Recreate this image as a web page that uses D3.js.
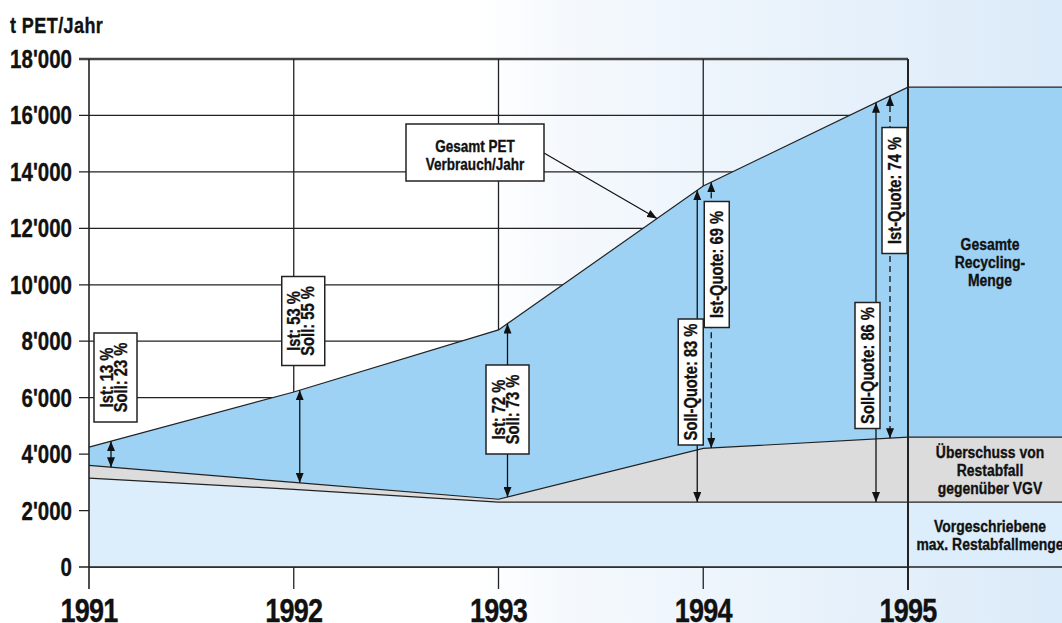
<!DOCTYPE html>
<html>
<head>
<meta charset="utf-8">
<script src="https://cdn.jsdelivr.net/npm/d3@7"></script>
<style>
  body { margin: 0; }
  svg text {
    font-family: 'Liberation Sans', Arial, sans-serif;
    font-weight: bold;
    fill: #111;
    stroke: #111;
    stroke-width: 0.35px;
  }
</style>
</head>
<body>
<svg id="chart" width="1062" height="623"></svg>
<script>
"use strict";

// t PET per year
var years          = [1991, 1992, 1993, 1994, 1995];
var gesamtPET      = [4250, 6200, 8400, 13500, 17000];
var restabfall     = [3600, 3000, 2400, 4200, 4600];
var vorgeschrieben = [3150, 2750, 2300, 2300, 2300];

var yTicks      = [0, 2000, 4000, 6000, 8000, 10000, 12000, 14000, 16000, 18000];
var yTickLabels = ["0", "2'000", "4'000", "6'000", "8'000", "10'000", "12'000", "14'000", "16'000", "18'000"];
var yTitle      = "t PET/Jahr";

var quoteTexts = [["Ist: 13 %", "Soll: 23 %"], ["Ist: 53 %", "Soll: 55 %"], ["Ist: 72 %", "Soll: 73 %"]];
var sollQuotes = ["Soll-Quote: 83 %", "Soll-Quote: 86 %"];
var istQuotes  = ["Ist-Quote: 69 %", "Ist-Quote: 74 %"];
var gesamtNote = ["Gesamt PET", "Verbrauch/Jahr"];
var legendTexts = [["Gesamte", "Recycling-", "Menge"],
                   ["Überschuss von", "Restabfall", "gegenüber VGV"],
                   ["Vorgeschriebene", "max. Restabfallmenge"]];

var W = 1062, H = 623;
var NARROW = 0.82; // squeeze the font to a condensed face
var svg = d3.select("#chart");

var x = d3.scaleLinear().domain([1991, 1995]).range([89, 908]);
var y = d3.scaleLinear().domain([0, 18000]).range([567, 59]);

// piecewise linear value of a series at any year
function valueAt(series, yr) {
  if (yr >= years[years.length - 1]) return series[series.length - 1];
  var i = Math.max(0, Math.min(years.length - 2, Math.floor(yr - years[0])));
  var t = (yr - years[i]) / (years[i + 1] - years[i]);
  return series[i] + (series[i + 1] - series[i]) * t;
}

// condensed text block; lines stacked with spacing ls, first baseline at base
function label(parent, xp, yp, lines, size, o) {
  o = o || {};
  var g = parent.append("g").attr("transform",
    "translate(" + xp + "," + yp + ")" + (o.rot ? " rotate(" + o.rot + ")" : "") +
    " scale(" + (o.sx || NARROW) + ",1)");
  var t = g.append("text")
    .attr("text-anchor", o.anchor || "middle")
    .style("font-size", size + "px");
  if (o.ls0) t.style("letter-spacing", o.ls0 + "px");
  lines.forEach(function(s, i) {
    t.append("tspan").attr("x", 0).attr("y", (o.base || 0) + i * (o.ls || 0)).text(s);
  });
  return g;
}

/*
 * background + markers
 */
var defs = svg.append("defs");
var grad = defs.append("linearGradient").attr("id", "bg")
  .attr("x1", 0).attr("x2", 1).attr("y1", 0).attr("y2", 0);
grad.append("stop").attr("offset", 0).attr("stop-color", "#ffffff");
grad.append("stop").attr("offset", 0.45).attr("stop-color", "#ffffff");
grad.append("stop").attr("offset", 0.53).attr("stop-color", "#f5f9fd");
grad.append("stop").attr("offset", 0.95).attr("stop-color", "#deecf9");
grad.append("stop").attr("offset", 1).attr("stop-color", "#dcebf9");

defs.append("marker")
  .attr("id", "head")
  .attr("viewBox", "0 0 10 8")
  .attr("refX", 10).attr("refY", 4)
  .attr("markerWidth", 10).attr("markerHeight", 8)
  .attr("markerUnits", "userSpaceOnUse")
  .attr("orient", "auto-start-reverse")
  .append("path").attr("d", "M0,0 L10,4 L0,8 Z").attr("fill", "#111");

svg.append("rect").attr("width", W).attr("height", H).attr("fill", "url(#bg)");

/*
 * grid
 */
var grid = svg.append("g");
grid.selectAll("line.h").data(yTicks).enter().append("line")
  .attr("x1", x(1991) - 10).attr("x2", x(1995))
  .attr("y1", function(d) { return y(d); })
  .attr("y2", function(d) { return y(d); })
  .attr("stroke", function(d) { return d === 18000 ? "#444" : "#222"; })
  .attr("stroke-width", function(d) { return d === 18000 ? 2.5 : 1.3; });
grid.selectAll("line.v").data(years.slice(1, 4)).enter().append("line")
  .attr("x1", function(d) { return x(d); })
  .attr("x2", function(d) { return x(d); })
  .attr("y1", y(18000)).attr("y2", y(0) + 22)
  .attr("stroke", "#222").attr("stroke-width", 1.3);

/*
 * stacked areas, running flat to the right edge after 1995
 */
var xEdge = x.invert(W + 2);
function pts(series) {
  var p = years.map(function(yr, i) { return [yr, series[i]]; });
  p.push([xEdge, series[series.length - 1]]);
  return p;
}
var area = d3.area()
  .x(function(d) { return x(d[0]); })
  .y0(y(0))
  .y1(function(d) { return y(d[1]); });
var line = d3.line()
  .x(function(d) { return x(d[0]); })
  .y(function(d) { return y(d[1]); });

var layers = [
  { s: gesamtPET,      fill: "#9dd2f4" },
  { s: restabfall,     fill: "#dcdcdc" },
  { s: vorgeschrieben, fill: "#dcedfb" }
];
layers.forEach(function(l) {
  svg.append("path").attr("d", area(pts(l.s))).attr("fill", l.fill);
});
layers.forEach(function(l) {
  svg.append("path").attr("d", line(pts(l.s)))
    .attr("fill", "none").attr("stroke", "#222").attr("stroke-width", 1.2);
});
svg.append("line")
  .attr("x1", x(1991)).attr("x2", W).attr("y1", y(0)).attr("y2", y(0))
  .attr("stroke", "#222").attr("stroke-width", 1.6);

// axis line 1991 and end line 1995 lie over the areas
svg.append("line")
  .attr("x1", x(1991)).attr("x2", x(1991)).attr("y1", y(18000)).attr("y2", y(0) + 22)
  .attr("stroke", "#222").attr("stroke-width", 1.6);
svg.append("line")
  .attr("x1", x(1995)).attr("x2", x(1995)).attr("y1", y(18000)).attr("y2", y(0) + 23)
  .attr("stroke", "#222").attr("stroke-width", 2);

/*
 * axis labels
 */
yTicks.forEach(function(d, i) {
  label(svg, 72, y(d) + 9, [yTickLabels[i]], 25, { anchor: "end" });
});
years.forEach(function(d) {
  label(svg, x(d), 622, [String(d)], 33, { ls0: -1 });
});
label(svg, 10, 33, [yTitle], 22, { anchor: "start", ls0: 0.5 });

/*
 * quote arrows and boxes
 */
function arrow(xp, v0, v1, dashed) {
  svg.append("line")
    .attr("x1", xp).attr("x2", xp)
    .attr("y1", y(v0)).attr("y2", y(v1))
    .attr("stroke", "#111").attr("stroke-width", 1.3)
    .attr("stroke-dasharray", dashed ? "6,4" : null)
    .attr("marker-start", "url(#head)")
    .attr("marker-end", "url(#head)");
}

// box standing upright with text reading bottom to top
function vbox(cx, cy, w, h, lines, base) {
  svg.append("rect")
    .attr("x", cx - w / 2).attr("y", cy - h / 2).attr("width", w).attr("height", h)
    .attr("fill", "#fff").attr("stroke", "#222").attr("stroke-width", 1.5);
  label(svg, cx, cy, lines, 17.5, { rot: -90, base: base, ls: 14, sx: 0.84 });
}

// 1991-1993: Ist/Soll from total down to the residual waste line
var twoLayout = [
  { dx: 22, bx: 4.5, by: 377.5 },
  { dx: 6,  bx: 3.5, by: 321 },
  { dx: 9,  bx: 0,   by: 409.5 }
];
twoLayout.forEach(function(l, i) {
  var xp = x(years[i]) + l.dx, yr = x.invert(xp);
  arrow(xp, valueAt(gesamtPET, yr), valueAt(restabfall, yr), false);
  vbox(xp + l.bx, l.by, 43, 89, quoteTexts[i], -3);
});

// 1994-1995: Soll-Quote (solid) and Ist-Quote (dashed)
var quoteLayout = [
  { yi: 3, sdx: -6,  sbx: -6.5, sby: 382,   idx: 8,   ibx: 5.5, iby: 264.5 },
  { yi: 4, sdx: -32, sbx: -8.5, sby: 365.5, idx: -18, ibx: 4.5, iby: 190.5 }
];
quoteLayout.forEach(function(l, i) {
  var xs = x(years[l.yi]) + l.sdx, xi = x(years[l.yi]) + l.idx;
  arrow(xs, valueAt(gesamtPET, x.invert(xs)), valueAt(vorgeschrieben, x.invert(xs)), false);
  arrow(xi, valueAt(gesamtPET, x.invert(xi)), valueAt(restabfall, x.invert(xi)), true);
  vbox(xs + l.sbx, l.sby, 25, 126, [sollQuotes[i]], 6.5);
  vbox(xi + l.ibx, l.iby, 25, 126, [istQuotes[i]], 6.5);
});

// "Gesamt PET" callout
var tipX = 657, tipYr = x.invert(tipX);
svg.append("line")
  .attr("x1", 544).attr("y1", 153)
  .attr("x2", tipX).attr("y2", y(valueAt(gesamtPET, tipYr)))
  .attr("stroke", "#111").attr("stroke-width", 1.2)
  .attr("marker-end", "url(#head)");
svg.append("rect").attr("x", 406).attr("y", 124).attr("width", 138).attr("height", 57)
  .attr("fill", "#fff").attr("stroke", "#222").attr("stroke-width", 1.5);
label(svg, 475, 152, gesamtNote, 16.5, { ls: 18 });

/*
 * band labels at the right
 */
var last = years.length - 1;
var bands = [
  [gesamtPET[last], restabfall[last]],
  [restabfall[last], vorgeschrieben[last]],
  [vorgeschrieben[last], 0]
];
bands.forEach(function(b, i) {
  var mid = (y(b[0]) + y(b[1])) / 2;
  var n = legendTexts[i].length, ls = 18;
  label(svg, 990, mid - (n - 1) * ls / 2 + 6, legendTexts[i], 17, { ls: ls });
});
</script>
</body>
</html>
